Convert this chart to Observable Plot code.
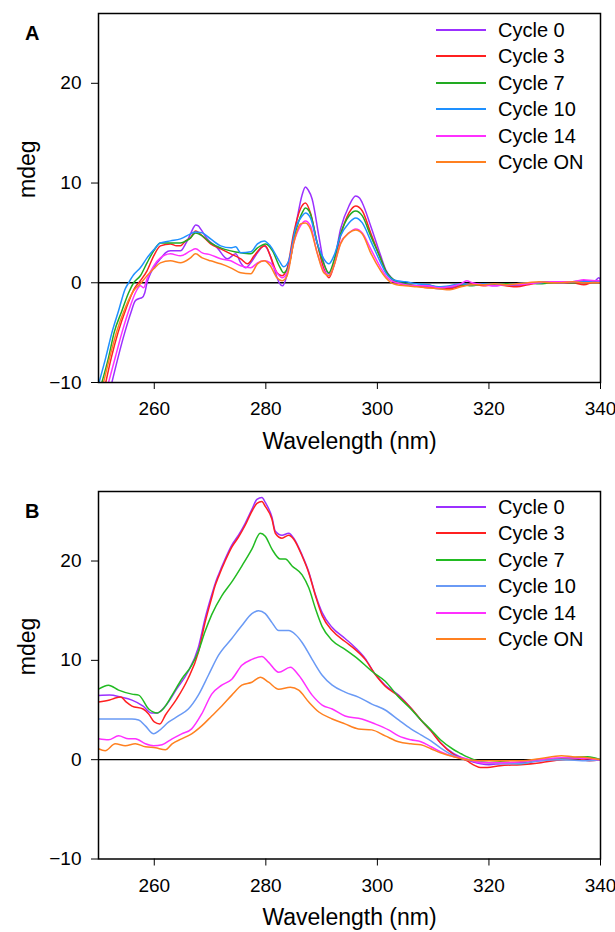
<!DOCTYPE html>
<html>
<head>
<meta charset="utf-8">
<script src="https://cdn.jsdelivr.net/npm/d3@7"></script>
<script src="https://cdn.jsdelivr.net/npm/@observablehq/plot@0.6"></script>
<style>
  body { margin: 0; background: #fff; }
  #root { position: relative; width: 615px; height: 932px; font-family: "Liberation Sans", Arial, sans-serif; color: #000; }
  .panel { position: absolute; left: 0; width: 615px; height: 466px; }
  .plabel { position: absolute; left: 25px; font-weight: bold; font-size: 20px; line-height: 20px; }
  .row { position: absolute; left: 436px; height: 26px; display: flex; align-items: center; }
  .swatch { width: 50px; height: 2px; margin-right: 12px; }
  .row span { font-size: 20px; line-height: 20px; white-space: nowrap; }
</style>
</head>
<body>
<div id="root"></div>
<script>
// ---------- labels / categories ----------
const seriesNames = ["Cycle 0", "Cycle 3", "Cycle 7", "Cycle 10", "Cycle 14", "Cycle ON"];
const colorsA = ["#9B30FF", "#FF2020", "#22AA22", "#1E90FF", "#FF30FF", "#FF8020"];
const colorsB = ["#9B30FF", "#FF2020", "#22BB22", "#6A9AF5", "#FF30FF", "#FF8020"];
const panelLabels = ["A", "B"];
const xTicks = [260, 280, 300, 320, 340];
const yTicks = [-10, 0, 10, 20];
const xLabel = "Wavelength (nm)";
const yLabel = "mdeg";

// ---------- Panel A: [wavelength nm, mdeg] ----------
const A_cycle0 = [[252.4,-10],[253.5,-7.5],[254.7,-5],[255.8,-3],[256.6,-1.8],[257.2,-1.6],[257.8,-1.5],[258.3,-1.0],[258.7,0.0],[259.3,0.9],[259.9,1.5],[260.5,2.0],[261.1,2.4],[262.0,3.0],[262.9,3.2],[263.8,3.2],[264.7,3.2],[265.6,3.9],[266.5,4.9],[267.0,5.5],[267.4,5.8],[267.9,5.7],[268.3,5.4],[269.5,4.4],[271.3,3.5],[273.1,2.4],[274.6,2.9],[275.5,2.0],[276.4,1.5],[277.3,2.0],[278.5,3.0],[279.7,3.7],[280.6,3.0],[281.5,1.4],[282.4,0.0],[283.0,-0.3],[283.6,0.4],[284.4,2.4],[285.6,6.4],[286.5,8.8],[287.1,9.6],[287.6,9.3],[288.3,8.4],[289.5,4.7],[290.4,2.0],[291.3,0.9],[292.2,2.0],[293.4,5.4],[294.9,7.7],[296.1,8.7],[296.8,8.5],[297.3,8.0],[298.8,5.7],[300.6,2.7],[301.5,1.3],[302.5,0.5],[303.5,0.1],[305,-0.2],[307,-0.3],[309,-0.4],[311,-0.6],[313,-0.5],[315,-0.3],[317,-0.2],[319,-0.2],[321,-0.3],[323,-0.2],[325,-0.3],[327,-0.1],[329,0.0],[331,0.1],[333,0.0],[335,0.1],[337,0.2],[339,0.2],[339.7,0.5],[340,0.3]];
const A_cycle3 = [[251.3,-10],[252.3,-7.5],[253.5,-5],[255.0,-2.5],[256.5,-0.5],[257.5,0.2],[258.7,1.2],[259.9,2.7],[261.1,3.7],[262.9,3.9],[264.0,3.7],[264.7,3.7],[265.6,4.2],[266.5,4.5],[267.4,5.2],[268.6,4.7],[270.1,3.9],[271.9,3.4],[273.7,2.9],[275.5,2.4],[276.7,1.9],[277.9,2.7],[279.1,3.5],[279.9,3.7],[280.8,2.7],[282.0,1.0],[282.9,0.7],[283.8,1.4],[285.0,5.0],[286.2,7.4],[287.1,8.0],[288.0,7.0],[289.2,4.0],[290.4,1.4],[291.3,0.5],[292.2,1.7],[293.4,4.7],[294.9,7.0],[296.1,7.7],[297.3,7.2],[298.8,5.0],[300.6,2.4],[301.5,1.2],[302.5,0.4],[303.5,0.0],[305,-0.2],[307,-0.3],[309,-0.5],[311,-0.4],[313,-0.6],[315,-0.3],[317,-0.1],[319,-0.3],[321,-0.2],[323,-0.3],[325,-0.4],[327,-0.2],[329,0.0],[331,0.1],[333,0.0],[335,0.0],[337,-0.2],[339,0.1],[340,0.0]];
const A_cycle7 = [[250.6,-10],[251.8,-7.5],[252.8,-5],[254.2,-2.8],[255.4,-1.0],[256.3,0.0],[257.5,0.7],[258.7,2.0],[259.9,3.2],[261.1,4.0],[262.9,4.0],[264.7,4.0],[266.5,4.5],[267.4,5.0],[268.6,4.7],[270.1,4.0],[271.9,3.5],[273.7,3.2],[275.5,3.0],[277.3,2.9],[278.5,3.5],[280.0,3.9],[281.2,3.2],[282.4,1.7],[283.2,1.0],[284.1,1.7],[285.3,5.0],[286.5,7.0],[287.1,7.5],[288.0,6.9],[289.2,4.0],[290.4,1.9],[291.3,1.0],[292.2,2.2],[293.4,4.9],[294.9,6.7],[296.1,7.2],[297.3,6.7],[298.8,4.7],[300.6,2.4],[301.5,1.2],[302.5,0.5],[303.5,0.1],[305,-0.1],[307,-0.3],[309,-0.2],[311,-0.5],[313,-0.4],[315,-0.2],[317,-0.3],[319,-0.1],[321,-0.2],[323,-0.1],[325,-0.2],[327,0.0],[329,-0.1],[331,0.0],[333,0.1],[335,0.0],[337,0.1],[339,0.1],[340,0.0]];
const A_cycle10 = [[250.1,-10],[251.3,-7.5],[252.5,-4.8],[253.6,-2.8],[254.8,-0.6],[255.4,0.0],[256.3,0.8],[257.5,1.5],[258.7,2.5],[259.9,3.3],[261.1,4.0],[262.9,4.2],[264.7,4.4],[266.5,4.9],[267.4,5.1],[268.6,5.0],[270.1,4.4],[271.9,3.7],[273.7,3.5],[274.6,3.6],[275.5,3.0],[277.3,3.1],[278.5,3.9],[279.7,4.2],[280.8,3.7],[282.4,2.2],[283.2,1.6],[284.1,2.2],[285.3,5.4],[286.5,6.7],[287.1,7.0],[288.0,6.5],[289.2,4.0],[290.4,2.4],[291.3,1.9],[292.2,2.7],[293.4,4.7],[294.9,6.0],[296.1,6.5],[297.3,6.0],[298.8,4.2],[300.6,2.0],[301.5,1.0],[302.5,0.4],[303.5,0.2],[305,0.1],[307,-0.1],[309,-0.2],[311,-0.4],[313,-0.3],[315,-0.1],[317,-0.2],[319,-0.1],[321,-0.1],[323,-0.2],[325,-0.1],[327,0.0],[329,0.0],[331,0.1],[333,0.0],[335,0.1],[337,0.1],[339,0.2],[340,0.1]];
const A_cycle14 = [[251.8,-10],[253.0,-7.5],[254.2,-5],[255.6,-2.5],[256.8,-0.8],[257.5,-0.3],[258.1,-0.5],[258.7,0.4],[259.9,1.7],[261.1,2.5],[262.9,2.9],[264.7,2.7],[266.5,3.2],[267.4,3.4],[268.6,3.0],[270.1,2.8],[271.9,2.4],[273.7,2.2],[275.5,1.7],[277.3,1.5],[278.5,2.0],[279.7,2.2],[280.8,2.0],[282.0,1.0],[282.9,0.5],[283.8,1.0],[285.0,4.0],[286.2,5.7],[287.1,6.2],[288.0,5.7],[289.2,3.0],[290.4,1.2],[291.3,0.7],[292.2,1.7],[293.4,4.0],[294.9,5.0],[296.1,5.4],[297.3,5.0],[298.8,3.4],[300.6,1.5],[301.5,0.7],[302.5,0.2],[303.5,0.0],[305,-0.2],[307,-0.3],[309,-0.3],[311,-0.5],[313,-0.4],[315,-0.1],[316,0.2],[317,0.0],[319,-0.2],[321,-0.3],[323,-0.2],[325,-0.2],[327,-0.1],[329,0.0],[331,0.1],[333,0.1],[335,0.1],[337,0.3],[339,0.2],[340,0.2]];
const A_cycleON = [[250.9,-10],[252.0,-7.5],[253.2,-5],[254.8,-2.5],[256.3,-0.8],[257.5,-0.1],[258.7,0.7],[259.9,1.4],[261.1,2.0],[262.9,2.2],[264.7,2.0],[266.5,2.5],[267.4,2.9],[268.6,2.5],[270.1,2.2],[271.9,1.9],[273.7,1.5],[275.5,1.0],[277.3,0.9],[278.5,1.9],[279.7,2.2],[280.8,1.7],[282.0,0.5],[282.9,0.2],[283.8,0.7],[285.0,4.0],[286.2,5.9],[287.1,6.0],[288.0,5.4],[289.2,3.0],[290.4,1.0],[291.3,0.7],[292.2,1.7],[293.4,3.9],[294.9,5.0],[296.1,5.3],[297.3,4.9],[298.8,3.0],[300.6,1.2],[301.5,0.5],[302.5,0.0],[303.5,-0.2],[305,-0.3],[307,-0.4],[309,-0.5],[311,-0.6],[313,-0.7],[315,-0.4],[317,-0.2],[319,-0.2],[321,-0.1],[323,-0.2],[325,-0.1],[327,0.0],[329,0.1],[331,0.0],[333,0.0],[335,0.1],[337,0.0],[339,0.0],[340,0.0]];

// ---------- Panel B: [wavelength nm, mdeg] ----------
const B_cycle0 = [[250,6.45],[252,6.5],[254,6.3],[256,6.0],[258,5.4],[259.5,4.7],[260.5,4.7],[262,5.4],[264,7.1],[266,8.8],[267.9,11.3],[269.1,14.2],[270.3,16.6],[270.9,17.7],[271.5,18.6],[272.7,20.2],[273.9,21.6],[275.1,22.6],[276.3,23.8],[277.5,25.2],[278.4,26.2],[279.3,26.4],[279.9,25.9],[281.1,24.4],[281.7,23.0],[282.9,22.6],[284.1,22.8],[285.0,22.3],[286.5,20.6],[287.7,18.9],[288.9,16.6],[290.1,14.8],[291.9,13.3],[294.2,12.2],[296.0,11.3],[297.8,10.2],[299.6,8.6],[301.4,7.5],[303.8,6.5],[306,5.2],[307.8,4.0],[309.6,2.9],[311.3,1.7],[313.7,0.6],[316,0.0],[318.5,-0.4],[320,-0.5],[322,-0.4],[325.7,-0.3],[329.3,-0.1],[333,0.1],[335,0.2],[337.7,0.2],[340,0.0]];
const B_cycle3 = [[250,5.8],[252,6.0],[253,6.2],[254,6.3],[255,5.8],[256,5.4],[258,5.1],[259,4.6],[260,3.8],[261,3.6],[262,4.5],[264,6.1],[266,8.1],[267.9,10.8],[269.1,13.8],[270.3,16.3],[270.9,17.5],[271.5,18.4],[272.7,20.0],[273.9,21.4],[275.1,22.4],[276.3,23.6],[277.5,25.0],[278.4,25.8],[279.3,26.0],[279.9,25.5],[281.1,24.2],[281.7,22.8],[282.9,22.3],[284.1,22.6],[285.0,22.2],[286.5,20.5],[287.7,18.8],[288.9,16.5],[290.1,14.5],[291.9,13.0],[294.2,11.9],[296.0,11.1],[297.8,10.1],[299.6,8.6],[301.4,7.4],[303.8,6.4],[306,5.2],[307.8,4.0],[309.6,2.9],[311.3,1.7],[313.7,0.5],[316,-0.1],[317.5,-0.6],[318.5,-0.8],[319.7,-0.8],[322,-0.6],[325.7,-0.5],[329.3,-0.3],[333,0.0],[336,0.1],[338,-0.1],[340,0.0]];
const B_cycle7 = [[250,7.1],[251.8,7.5],[253.6,7.0],[256.0,6.6],[257.2,6.5],[259.0,5.1],[260.5,4.7],[261.4,5.0],[263.2,6.5],[264.9,8.1],[266.7,9.5],[267.9,10.9],[269.1,12.9],[270.3,14.6],[272.1,16.5],[273.9,17.9],[275.7,19.5],[277.5,21.2],[279.0,22.8],[279.9,22.5],[281.1,21.2],[282.6,20.2],[283.5,20.2],[284.7,19.5],[286.5,18.6],[287.7,17.3],[288.9,15.2],[290.1,13.4],[291.9,12.0],[294.2,11.1],[296.6,10.1],[299.0,8.9],[301.4,7.9],[303.8,6.3],[306,5.1],[307.8,4.0],[309.6,3.0],[311.3,2.0],[313.7,1.0],[315,0.6],[316,0.3],[318.5,-0.2],[320,-0.3],[322,-0.2],[325.7,-0.4],[329.3,0.0],[333,0.1],[337.7,0.3],[340,0.0]];
const B_cycle10 = [[250,4.1],[253.0,4.1],[256.0,4.1],[257.2,4.0],[258.4,3.4],[259.9,2.6],[260.8,2.9],[262.6,3.8],[264.3,4.4],[266.1,5.1],[267.9,6.5],[269.7,8.5],[271.5,10.5],[273.9,12.2],[275.7,13.5],[277.5,14.7],[278.7,15.0],[279.9,14.7],[281.1,13.8],[282.3,13.0],[284.1,13.0],[285.3,12.6],[286.5,11.8],[288.3,10.1],[290.1,8.5],[291.9,7.5],[294.2,6.8],[296.6,6.3],[299.0,5.6],[301.4,5.0],[303.8,4.0],[306,3.1],[307.8,2.5],[309.6,1.9],[311.3,1.2],[313.7,0.4],[316,0.0],[318.5,-0.2],[322,-0.4],[325.7,-0.4],[329,-0.1],[333,0.0],[337.7,-0.1],[340,0.0]];
const B_cycle14 = [[250,2.1],[251.8,2.0],[253.6,2.4],[255.4,2.1],[256.6,2.1],[258.4,1.6],[259.9,1.4],[261.4,1.5],[263.2,2.1],[264.9,2.6],[266.7,3.1],[268.5,4.6],[270.3,6.6],[272.1,7.5],[273.9,8.1],[275.7,9.5],[277.5,10.1],[279.3,10.4],[280.5,9.8],[282.3,8.8],[284.4,9.3],[285.9,8.5],[288.3,6.5],[290.1,5.5],[291.9,5.1],[294.2,4.4],[297.2,4.1],[299.6,3.6],[302.0,3.0],[303.8,2.4],[306,2.0],[307.8,1.8],[309.6,1.3],[311.3,0.8],[313.7,0.3],[316,0.1],[318.5,-0.3],[322,-0.3],[325.7,-0.2],[329,0.0],[333,0.2],[337.7,0.1],[340,0.0]];
const B_cycleON = [[250,1.1],[251.2,0.9],[253.0,1.6],[254.8,1.4],[256.6,1.6],[258.4,1.3],[260.2,1.2],[262.0,1.0],[263.2,1.6],[264.9,2.1],[266.7,2.6],[268.5,3.4],[270.3,4.4],[272.1,5.4],[273.9,6.5],[275.7,7.5],[277.5,7.8],[279.0,8.3],[280.5,7.8],[282.3,7.1],[284.4,7.3],[285.9,7.0],[287.7,5.8],[289.5,4.8],[291.9,4.1],[294.2,3.6],[296.6,3.1],[299.0,3.0],[301.4,2.4],[303.8,1.8],[306,1.6],[307.8,1.5],[309.6,1.1],[311.3,0.7],[313.7,0.3],[316,0.0],[318.5,-0.1],[322,-0.1],[325.7,-0.1],[329,0.1],[333,0.4],[335,0.3],[337.7,0.2],[340,0.0]];

const panelA = [A_cycle0, A_cycle3, A_cycle7, A_cycle10, A_cycle14, A_cycleON];
const panelB = [B_cycle0, B_cycle3, B_cycle7, B_cycle10, B_cycle14, B_cycleON];

function tidy(list) {
  const out = [];
  list.forEach((arr, i) => arr.forEach(([w, v]) => out.push({series: seriesNames[i], w, v})));
  return out;
}

const FONT = '"Liberation Sans", Arial, sans-serif';

function makePlot(data, colors, mt, mb) {
  return Plot.plot({
    width: 615,
    height: 466,
    marginLeft: 98,
    marginRight: 15,
    marginTop: mt,
    marginBottom: mb,
    style: {fontFamily: FONT, color: "black", background: "white", overflow: "visible"},
    x: {domain: [250, 340]},
    y: {domain: [-10, 27]},
    color: {domain: seriesNames, range: colors},
    marks: [
      Plot.ruleY([0], {stroke: "black", strokeWidth: 1.3}),
      Plot.line(data, {x: "w", y: "v", z: "series", stroke: "series", strokeWidth: 1.5, curve: "monotone-x", clip: true}),
      Plot.frame({stroke: "black", strokeWidth: 1.5}),
      Plot.axisX({ticks: xTicks, tickSize: 7, tickPadding: 12, fontSize: 19, label: null}),
      Plot.axisY({ticks: yTicks, tickSize: 7, tickPadding: 10, fontSize: 19, label: null}),
      Plot.text([xLabel], {text: d => d, frameAnchor: "bottom", dy: 66, lineAnchor: "bottom", fontSize: 23}),
      Plot.text([yLabel], {text: d => d, frameAnchor: "left", dx: -80, rotate: -90, lineAnchor: "top", fontSize: 23})
    ]
  });
}

const root = document.getElementById("root");
const panels = [
  {data: tidy(panelA), colors: colorsA, top: 0, mt: 13, mb: 84, legendTop: 29.5},
  {data: tidy(panelB), colors: colorsB, top: 466, mt: 25, mb: 73.5, legendTop: 506.7}
];

panels.forEach((p, k) => {
  const holder = document.createElement("div");
  holder.className = "panel";
  holder.style.top = p.top + "px";
  holder.appendChild(makePlot(p.data, p.colors, p.mt, p.mb));
  root.appendChild(holder);

  const lab = document.createElement("div");
  lab.className = "plabel";
  lab.textContent = panelLabels[k];
  lab.style.top = (p.top + p.mt + 10) + "px";
  root.appendChild(lab);

  seriesNames.forEach((name, i) => {
    const row = document.createElement("div");
    row.className = "row";
    row.style.top = (p.legendTop + i * 26.55 - 13) + "px";
    const sw = document.createElement("div");
    sw.className = "swatch";
    sw.style.background = p.colors[i];
    const tx = document.createElement("span");
    tx.textContent = name;
    row.appendChild(sw);
    row.appendChild(tx);
    root.appendChild(row);
  });
});
</script>
</body>
</html>
